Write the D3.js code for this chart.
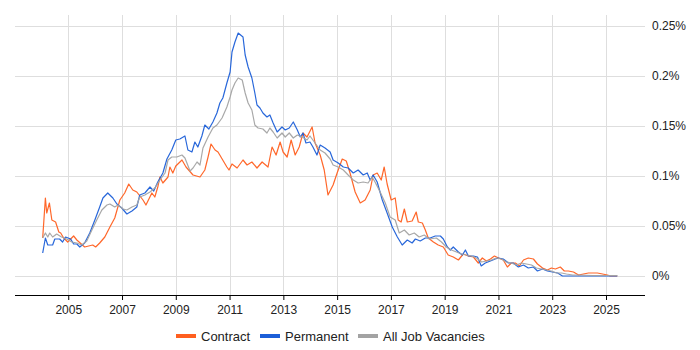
<!DOCTYPE html>
<html><head><meta charset="utf-8">
<script src="https://cdn.jsdelivr.net/npm/d3@7"></script>
<style>body{margin:0;background:#fff;}svg{display:block;font-family:"Liberation Sans",Arial,sans-serif;}</style>
</head><body>
<svg id="chart" width="700" height="350"></svg>
<script>
const yearTicks = [2005,2007,2009,2011,2013,2015,2017,2019,2021,2023,2025];
const valueTicks = [0,0.05,0.1,0.15,0.2,0.25];
const valueTickLabels = ["0%","0.05%","0.1%","0.15%","0.2%","0.25%"];
const seriesNames = ["Contract","Permanent","All Job Vacancies"];
const seriesColors = ["#ff5f1f","#1c5fd8","#a3a3a3"];

const contract = [[2004.05,0.038],[2004.15,0.078],[2004.20,0.063],[2004.30,0.073],[2004.39,0.056],[2004.53,0.054],[2004.65,0.044],[2004.72,0.043],[2004.83,0.038],[2004.98,0.034],[2005.20,0.040],[2005.32,0.036],[2005.61,0.029],[2005.91,0.031],[2006.02,0.029],[2006.17,0.033],[2006.36,0.039],[2006.55,0.049],[2006.73,0.058],[2006.92,0.076],[2007.10,0.083],[2007.25,0.092],[2007.40,0.086],[2007.55,0.084],[2007.78,0.076],[2007.89,0.071],[2008.11,0.083],[2008.22,0.079],[2008.33,0.089],[2008.41,0.099],[2008.52,0.093],[2008.71,0.099],[2008.78,0.109],[2008.89,0.103],[2009.00,0.110],[2009.23,0.116],[2009.38,0.109],[2009.64,0.101],[2009.90,0.099],[2010.08,0.106],[2010.20,0.119],[2010.31,0.132],[2010.46,0.126],[2010.57,0.124],[2010.90,0.109],[2010.98,0.106],[2011.09,0.112],[2011.28,0.108],[2011.50,0.116],[2011.65,0.111],[2011.83,0.114],[2012.02,0.108],[2012.21,0.114],[2012.43,0.109],[2012.58,0.129],[2012.73,0.121],[2012.88,0.134],[2012.99,0.124],[2013.14,0.119],[2013.29,0.136],[2013.44,0.121],[2013.59,0.129],[2013.73,0.143],[2013.88,0.139],[2014.07,0.149],[2014.18,0.133],[2014.37,0.121],[2014.52,0.106],[2014.66,0.081],[2014.85,0.091],[2015.00,0.103],[2015.19,0.117],[2015.34,0.115],[2015.48,0.103],[2015.67,0.084],[2015.86,0.073],[2016.04,0.076],[2016.23,0.086],[2016.34,0.101],[2016.49,0.103],[2016.64,0.096],[2016.75,0.109],[2016.86,0.092],[2017.01,0.076],[2017.16,0.078],[2017.27,0.056],[2017.38,0.054],[2017.50,0.067],[2017.61,0.054],[2017.79,0.055],[2017.94,0.064],[2018.02,0.054],[2018.17,0.053],[2018.28,0.046],[2018.39,0.038],[2018.58,0.034],[2018.76,0.031],[2018.95,0.029],[2019.13,0.021],[2019.32,0.019],[2019.51,0.016],[2019.69,0.022],[2019.88,0.020],[2020.07,0.019],[2020.25,0.013],[2020.40,0.018],[2020.55,0.015],[2020.70,0.017],[2020.85,0.020],[2021.00,0.018],[2021.18,0.016],[2021.33,0.009],[2021.48,0.013],[2021.63,0.013],[2021.78,0.010],[2021.93,0.016],[2022.11,0.018],[2022.30,0.017],[2022.45,0.012],[2022.64,0.008],[2022.82,0.006],[2022.97,0.008],[2023.12,0.007],[2023.30,0.009],[2023.45,0.005],[2023.60,0.005],[2023.79,0.004],[2023.98,0.001],[2024.16,0.002],[2024.35,0.003],[2024.53,0.003],[2024.68,0.003],[2024.87,0.002],[2025.05,0.001],[2025.16,0.000],[2025.42,0.000]];

const permanent = [[2004.05,0.023],[2004.15,0.038],[2004.24,0.031],[2004.42,0.031],[2004.50,0.037],[2004.68,0.037],[2004.79,0.034],[2004.90,0.039],[2005.09,0.037],[2005.20,0.032],[2005.32,0.032],[2005.43,0.029],[2005.61,0.033],[2005.80,0.043],[2005.99,0.056],[2006.17,0.069],[2006.29,0.078],[2006.47,0.083],[2006.66,0.078],[2006.81,0.072],[2006.99,0.068],[2007.18,0.062],[2007.37,0.065],[2007.55,0.069],[2007.66,0.081],[2007.85,0.083],[2008.04,0.089],[2008.18,0.085],[2008.33,0.094],[2008.52,0.103],[2008.67,0.117],[2008.85,0.126],[2009.00,0.136],[2009.15,0.137],[2009.34,0.140],[2009.45,0.126],[2009.60,0.124],[2009.71,0.134],[2009.82,0.129],[2009.97,0.140],[2010.08,0.151],[2010.23,0.147],[2010.38,0.154],[2010.53,0.163],[2010.64,0.173],[2010.75,0.178],[2010.90,0.193],[2011.02,0.204],[2011.09,0.224],[2011.20,0.234],[2011.32,0.243],[2011.50,0.239],[2011.58,0.221],[2011.69,0.209],[2011.83,0.198],[2011.94,0.183],[2012.02,0.171],[2012.13,0.168],[2012.24,0.163],[2012.39,0.159],[2012.50,0.161],[2012.62,0.153],[2012.77,0.144],[2012.95,0.149],[2013.07,0.146],[2013.22,0.148],[2013.37,0.154],[2013.52,0.146],[2013.63,0.139],[2013.73,0.143],[2013.84,0.133],[2013.99,0.134],[2014.10,0.129],[2014.25,0.121],[2014.37,0.131],[2014.55,0.128],[2014.74,0.124],[2014.85,0.116],[2015.04,0.113],[2015.23,0.109],[2015.41,0.108],[2015.60,0.103],[2015.78,0.106],[2015.97,0.101],[2016.12,0.103],[2016.23,0.096],[2016.34,0.101],[2016.49,0.094],[2016.68,0.076],[2016.86,0.063],[2017.05,0.049],[2017.24,0.039],[2017.42,0.031],[2017.61,0.036],[2017.79,0.033],[2017.91,0.037],[2018.09,0.035],[2018.28,0.038],[2018.46,0.038],[2018.65,0.040],[2018.84,0.040],[2018.95,0.037],[2019.10,0.029],[2019.21,0.026],[2019.32,0.029],[2019.51,0.024],[2019.66,0.021],[2019.77,0.026],[2019.88,0.020],[2020.07,0.020],[2020.22,0.019],[2020.36,0.010],[2020.51,0.013],[2020.70,0.015],[2020.88,0.017],[2021.00,0.018],[2021.18,0.017],[2021.37,0.013],[2021.55,0.013],[2021.74,0.009],[2021.93,0.011],[2022.11,0.008],[2022.30,0.009],[2022.45,0.005],[2022.64,0.007],[2022.82,0.005],[2023.01,0.004],[2023.20,0.003],[2023.38,0.000],[2024.00,0.000],[2025.42,0.000]];

const allJobs = [[2004.05,0.038],[2004.15,0.043],[2004.24,0.039],[2004.31,0.043],[2004.42,0.039],[2004.57,0.042],[2004.75,0.039],[2004.94,0.037],[2005.13,0.034],[2005.32,0.033],[2005.50,0.031],[2005.69,0.035],[2005.88,0.046],[2006.06,0.056],[2006.25,0.066],[2006.44,0.071],[2006.55,0.072],[2006.73,0.069],[2006.85,0.071],[2007.04,0.067],[2007.18,0.066],[2007.37,0.069],[2007.55,0.071],[2007.66,0.079],[2007.85,0.081],[2008.04,0.084],[2008.22,0.088],[2008.41,0.096],[2008.60,0.103],[2008.71,0.116],[2008.85,0.119],[2009.04,0.119],[2009.23,0.121],[2009.34,0.118],[2009.53,0.105],[2009.64,0.108],[2009.79,0.114],[2009.90,0.111],[2010.01,0.128],[2010.20,0.139],[2010.38,0.148],[2010.53,0.151],[2010.72,0.158],[2010.90,0.169],[2011.02,0.179],[2011.09,0.186],[2011.20,0.193],[2011.32,0.198],[2011.47,0.196],[2011.58,0.183],[2011.69,0.173],[2011.83,0.166],[2011.94,0.151],[2012.06,0.148],[2012.24,0.147],[2012.39,0.143],[2012.50,0.148],[2012.62,0.144],[2012.77,0.138],[2012.95,0.143],[2013.07,0.139],[2013.22,0.143],[2013.37,0.138],[2013.52,0.141],[2013.70,0.139],[2013.88,0.136],[2013.99,0.140],[2014.18,0.133],[2014.37,0.126],[2014.55,0.123],[2014.74,0.117],[2014.85,0.111],[2015.04,0.109],[2015.23,0.106],[2015.41,0.101],[2015.60,0.096],[2015.78,0.093],[2015.97,0.094],[2016.15,0.093],[2016.30,0.099],[2016.41,0.094],[2016.60,0.084],[2016.79,0.073],[2016.97,0.059],[2017.16,0.056],[2017.31,0.043],[2017.50,0.046],[2017.68,0.041],[2017.87,0.043],[2018.05,0.039],[2018.24,0.041],[2018.43,0.037],[2018.69,0.038],[2018.88,0.034],[2019.06,0.029],[2019.25,0.026],[2019.44,0.024],[2019.62,0.022],[2019.81,0.021],[2020.00,0.020],[2020.18,0.018],[2020.37,0.014],[2020.55,0.015],[2020.74,0.016],[2020.92,0.018],[2021.11,0.017],[2021.30,0.014],[2021.48,0.013],[2021.67,0.011],[2021.85,0.013],[2022.04,0.012],[2022.23,0.011],[2022.41,0.008],[2022.60,0.007],[2022.79,0.006],[2022.97,0.005],[2023.16,0.003],[2023.35,0.003],[2023.53,0.002],[2023.76,0.001],[2024.00,0.001],[2024.50,0.0005],[2025.42,0.0005]];

const svg = d3.select("#chart");
const plotLeft = 15, plotRight = 645, plotTop = 15, plotBottom = 295;
const x = d3.scaleLinear().domain([2003.02, 2026.45]).range([plotLeft, plotRight]);
const y = d3.scaleLinear().domain([0, 0.25]).range([276, 26]);

// grid
svg.append("g").selectAll("line").data(valueTicks).join("line")
  .attr("x1", plotLeft).attr("x2", plotRight)
  .attr("y1", d => Math.round(y(d)) + 0.5).attr("y2", d => Math.round(y(d)) + 0.5)
  .attr("stroke", "#dedede").attr("stroke-width", 1);
svg.append("g").selectAll("line").data(yearTicks).join("line")
  .attr("x1", d => Math.round(x(d)) + 0.5).attr("x2", d => Math.round(x(d)) + 0.5)
  .attr("y1", plotTop).attr("y2", plotBottom)
  .attr("stroke", "#dedede").attr("stroke-width", 1);

// x axis
const xAxis = d3.axisBottom(x).tickValues(yearTicks).tickFormat(d3.format("d")).tickSize(5).tickSizeOuter(0);
const gx = svg.append("g").attr("transform", `translate(0,${plotBottom})`).call(xAxis);
gx.select(".domain").attr("stroke", "#000").attr("d", `M${plotLeft},0.5H${plotRight}`);
gx.selectAll(".tick line").attr("stroke", "#000");
gx.selectAll("text").attr("font-size", 12).attr("fill", "#222").attr("dy", "0.95em")
  .attr("font-family", "'Liberation Sans', Arial, sans-serif");

// y labels on right
const yAxis = d3.axisRight(y).tickValues(valueTicks).tickFormat((d, i) => valueTickLabels[i]).tickSize(0);
const gy = svg.append("g").attr("transform", `translate(652,0)`).call(yAxis);
gy.select(".domain").remove();
gy.selectAll("text").attr("font-size", 12).attr("fill", "#222").attr("x", 0)
  .attr("font-family", "'Liberation Sans', Arial, sans-serif");

// lines
const line = d3.line().x(d => x(d[0])).y(d => y(d[1]));
const seriesData = [contract, permanent, allJobs];
svg.append("g").selectAll("path").data(seriesData).join("path")
  .attr("d", line).attr("fill", "none")
  .attr("stroke", (d, i) => seriesColors[i]).attr("stroke-width", 1.2)
  .attr("stroke-opacity", 0.95).attr("stroke-linejoin", "round");

// legend
const legendX = [176, 260, 358];
const lg = svg.append("g");
seriesNames.forEach((name, i) => {
  lg.append("rect").attr("x", legendX[i]).attr("y", 334).attr("width", 20).attr("height", 4).attr("fill", seriesColors[i]);
  lg.append("text").attr("x", legendX[i] + 25).attr("y", 340.5).attr("font-size", 13).attr("fill", "#222").text(name);
});
</script>
</body></html>
